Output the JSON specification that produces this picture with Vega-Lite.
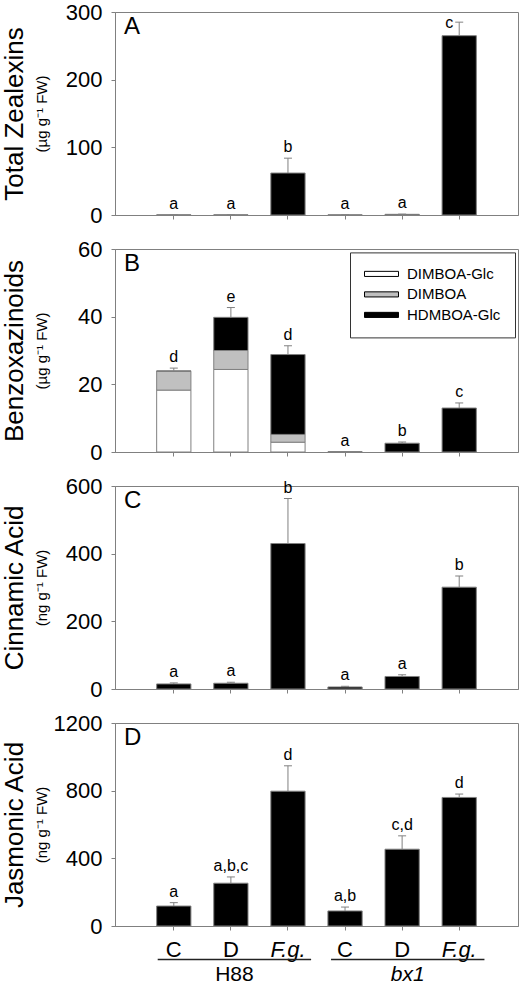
{
  "$schema": "https://vega.github.io/schema/vega-lite/v6.json",
  "padding": {"left": 0, "top": 0, "right": 5, "bottom": 0},
  "datasets": {
    "A": [
      {"cat": "H88|C", "value": 0.3, "upper": 0.3, "letter": "a"},
      {"cat": "H88|D", "value": 0.3, "upper": 0.3, "letter": "a"},
      {"cat": "H88|F.g.", "value": 62, "upper": 84, "letter": "b"},
      {"cat": "bx1|C", "value": 0.2, "upper": 0.2, "letter": "a"},
      {"cat": "bx1|D", "value": 1.0, "upper": 1.3, "letter": "a"},
      {"cat": "bx1|F.g.", "value": 265, "upper": 285, "letter": "c"}
    ],
    "B": [
      {"cat": "H88|C", "compound": "DIMBOA-Glc", "value": 18.3},
      {"cat": "H88|C", "compound": "DIMBOA", "value": 5.5},
      {"cat": "H88|C", "compound": "HDMBOA-Glc", "value": 0.2},
      {"cat": "H88|D", "compound": "DIMBOA-Glc", "value": 24.4},
      {"cat": "H88|D", "compound": "DIMBOA", "value": 5.6},
      {"cat": "H88|D", "compound": "HDMBOA-Glc", "value": 9.8},
      {"cat": "H88|F.g.", "compound": "DIMBOA-Glc", "value": 2.9},
      {"cat": "H88|F.g.", "compound": "DIMBOA", "value": 2.3},
      {"cat": "H88|F.g.", "compound": "HDMBOA-Glc", "value": 23.6},
      {"cat": "bx1|C", "compound": "DIMBOA-Glc", "value": 0},
      {"cat": "bx1|C", "compound": "DIMBOA", "value": 0},
      {"cat": "bx1|C", "compound": "HDMBOA-Glc", "value": 0},
      {"cat": "bx1|D", "compound": "DIMBOA-Glc", "value": 0},
      {"cat": "bx1|D", "compound": "DIMBOA", "value": 0},
      {"cat": "bx1|D", "compound": "HDMBOA-Glc", "value": 2.6},
      {"cat": "bx1|F.g.", "compound": "DIMBOA-Glc", "value": 0},
      {"cat": "bx1|F.g.", "compound": "DIMBOA", "value": 0},
      {"cat": "bx1|F.g.", "compound": "HDMBOA-Glc", "value": 13.0}
    ],
    "Bsum": [
      {"cat": "H88|C", "value": 24.0, "upper": 24.8, "letter": "d"},
      {"cat": "H88|D", "value": 39.8, "upper": 42.7, "letter": "e"},
      {"cat": "H88|F.g.", "value": 28.8, "upper": 31.4, "letter": "d"},
      {"cat": "bx1|C", "value": 0, "upper": 0, "letter": "a"},
      {"cat": "bx1|D", "value": 2.6, "upper": 2.95, "letter": "b"},
      {"cat": "bx1|F.g.", "value": 13.0, "upper": 14.5, "letter": "c"}
    ],
    "C": [
      {"cat": "H88|C", "value": 15, "upper": 18, "letter": "a"},
      {"cat": "H88|D", "value": 17, "upper": 20, "letter": "a"},
      {"cat": "H88|F.g.", "value": 430, "upper": 563, "letter": "b"},
      {"cat": "bx1|C", "value": 6, "upper": 8, "letter": "a"},
      {"cat": "bx1|D", "value": 37, "upper": 42, "letter": "a"},
      {"cat": "bx1|F.g.", "value": 301, "upper": 334, "letter": "b"}
    ],
    "D": [
      {"cat": "H88|C", "value": 118, "upper": 138, "letter": "a"},
      {"cat": "H88|D", "value": 253, "upper": 290, "letter": "a,b,c"},
      {"cat": "H88|F.g.", "value": 797, "upper": 947, "letter": "d"},
      {"cat": "bx1|C", "value": 89, "upper": 112, "letter": "a,b"},
      {"cat": "bx1|D", "value": 454, "upper": 533, "letter": "c,d"},
      {"cat": "bx1|F.g.", "value": 760, "upper": 780, "letter": "d"}
    ],
    "groups": [
      {"genotype": "H88"},
      {"genotype": "bx1"}
    ]
  },
  "spacing": 34,
  "bounds": "flush",
  "vconcat": [
    {
      "width": 403, "height": 203,
      "title": {"text": "A", "offset": -38, "dx": 9},
      "data": {"name": "A"},
      "encoding": {
        "x": {"field": "cat", "type": "nominal", "title": null,
              "scale": {"domain": ["H88|C", "H88|D", "H88|F.g.", "bx1|C", "bx1|D", "bx1|F.g."], "paddingInner": 0.4, "paddingOuter": 0.73},
              "axis": {"labels": false}}
      },
      "layer": [
        {
          "mark": {"type": "bar", "fill": "#000000", "stroke": "#808080", "strokeWidth": 1},
          "encoding": {
            "y": {"field": "value", "type": "quantitative", "scale": {"domain": [0, 300], "nice": false},
                  "axis": {"title": "Total Zealexins", "values": [0, 100, 200, 300], "format": "d", "titleX": -88}}
          }
        },
        {
          "layer": [
            {
              "mark": {"type": "rule", "color": "#808080", "strokeWidth": 1},
              "encoding": {
                "y": {"field": "value", "type": "quantitative", "scale": {"domain": [0, 300], "nice": false},
                      "axis": {"orient": "left", "title": "(µg g⁻¹ FW)", "labels": false, "ticks": false, "domain": false, "titleFontSize": 15, "titleX": -66}},
                "y2": {"field": "upper"}
              }
            },
            {
              "mark": {"type": "tick", "color": "#808080", "size": 8, "thickness": 1, "opacity": 1, "orient": "horizontal"},
              "encoding": {"y": {"field": "upper", "type": "quantitative"}}
            },
            {
              "mark": {"type": "text", "fontSize": 16, "baseline": "alphabetic", "color": "#000000",
                       "dx": {"expr": "datum.upper > 270 ? -10 : 0"},
                       "dy": {"expr": "datum.upper > 270 ? 6 : -6"}},
              "encoding": {"y": {"field": "upper", "type": "quantitative"}, "text": {"field": "letter"}}
            }
          ]
        }
      ],
      "resolve": {"scale": {"y": "independent"}}
    },
    {
      "width": 403, "height": 203,
      "title": {"text": "B", "offset": -38, "dx": 9},
      "encoding": {
        "x": {"field": "cat", "type": "nominal", "title": null,
              "scale": {"domain": ["H88|C", "H88|D", "H88|F.g.", "bx1|C", "bx1|D", "bx1|F.g."], "paddingInner": 0.4, "paddingOuter": 0.73},
              "axis": {"labels": false}}
      },
      "layer": [
        {
          "data": {"name": "B"},
          "transform": [{"calculate": "indexof(['DIMBOA-Glc','DIMBOA','HDMBOA-Glc'], datum.compound)", "as": "stackOrder"}],
          "mark": {"type": "bar", "stroke": "#808080", "strokeWidth": 1},
          "encoding": {
            "y": {"field": "value", "type": "quantitative", "stack": "zero", "scale": {"domain": [0, 60], "nice": false},
                  "axis": {"title": "Benzoxazinoids", "values": [0, 20, 40, 60], "format": "d", "titleX": -88}},
            "fill": {"field": "compound", "type": "nominal",
                     "scale": {"domain": ["DIMBOA-Glc", "DIMBOA", "HDMBOA-Glc"], "range": ["#ffffff", "#c0c0c0", "#000000"]},
                     "legend": {"orient": "none", "legendX": 235, "legendY": 240.4, "title": null,
                                "strokeColor": "#333333", "fillColor": "#ffffff", "padding": 14,
                                "labelFontSize": 15, "labelOffset": 8, "rowPadding": 4.5, "clipHeight": 15,
                                "symbolType": "M-1,-0.15H1V0.15H-1Z", "symbolSize": 1156,
                                "symbolStrokeColor": "#000000", "symbolStrokeWidth": 1, "symbolOpacity": 1}},
            "order": {"field": "stackOrder", "type": "quantitative"}
          }
        },
        {
          "data": {"name": "Bsum"},
          "layer": [
            {
              "mark": {"type": "rule", "color": "#808080", "strokeWidth": 1},
              "encoding": {
                "y": {"field": "value", "type": "quantitative", "scale": {"domain": [0, 60], "nice": false},
                      "axis": {"orient": "left", "title": "(µg g⁻¹ FW)", "labels": false, "ticks": false, "domain": false, "titleFontSize": 15, "titleX": -66}},
                "y2": {"field": "upper"}
              }
            },
            {
              "mark": {"type": "tick", "color": "#808080", "size": 8, "thickness": 1, "opacity": 1, "orient": "horizontal"},
              "encoding": {"y": {"field": "upper", "type": "quantitative"}}
            },
            {
              "mark": {"type": "text", "fontSize": 16, "baseline": "alphabetic", "dy": -6, "color": "#000000"},
              "encoding": {"y": {"field": "upper", "type": "quantitative"}, "text": {"field": "letter"}}
            }
          ]
        }
      ],
      "resolve": {"scale": {"y": "independent"}}
    },
    {
      "width": 403, "height": 203,
      "title": {"text": "C", "offset": -38, "dx": 9},
      "data": {"name": "C"},
      "encoding": {
        "x": {"field": "cat", "type": "nominal", "title": null,
              "scale": {"domain": ["H88|C", "H88|D", "H88|F.g.", "bx1|C", "bx1|D", "bx1|F.g."], "paddingInner": 0.4, "paddingOuter": 0.73},
              "axis": {"labels": false}}
      },
      "layer": [
        {
          "mark": {"type": "bar", "fill": "#000000", "stroke": "#808080", "strokeWidth": 1},
          "encoding": {
            "y": {"field": "value", "type": "quantitative", "scale": {"domain": [0, 600], "nice": false},
                  "axis": {"title": "Cinnamic Acid", "values": [0, 200, 400, 600], "format": "d", "titleX": -88}}
          }
        },
        {
          "layer": [
            {
              "mark": {"type": "rule", "color": "#808080", "strokeWidth": 1},
              "encoding": {
                "y": {"field": "value", "type": "quantitative", "scale": {"domain": [0, 600], "nice": false},
                      "axis": {"orient": "left", "title": "(ng g⁻¹ FW)", "labels": false, "ticks": false, "domain": false, "titleFontSize": 15, "titleX": -66}},
                "y2": {"field": "upper"}
              }
            },
            {
              "mark": {"type": "tick", "color": "#808080", "size": 8, "thickness": 1, "opacity": 1, "orient": "horizontal"},
              "encoding": {"y": {"field": "upper", "type": "quantitative"}}
            },
            {
              "mark": {"type": "text", "fontSize": 16, "baseline": "alphabetic", "dy": -6, "color": "#000000"},
              "encoding": {"y": {"field": "upper", "type": "quantitative"}, "text": {"field": "letter"}}
            }
          ]
        }
      ],
      "resolve": {"scale": {"y": "independent"}}
    },
    {
      "width": 403, "height": 203,
      "title": {"text": "D", "offset": -38, "dx": 9},
      "layer": [
        {
          "data": {"name": "D"},
          "mark": {"type": "bar", "fill": "#000000", "stroke": "#808080", "strokeWidth": 1},
          "encoding": {
            "x": {"field": "cat", "type": "nominal", "title": null,
                  "scale": {"domain": ["H88|C", "H88|D", "H88|F.g.", "bx1|C", "bx1|D", "bx1|F.g."], "paddingInner": 0.4, "paddingOuter": 0.73},
                  "axis": {"labelExpr": "split(datum.value, '|')[1]",
                           "labelFontStyle": {"condition": {"test": "indexof(datum.value, 'F.g.') >= 0", "value": "italic"}, "value": "normal"}}},
            "y": {"field": "value", "type": "quantitative", "scale": {"domain": [0, 1200], "nice": false},
                  "axis": {"title": "Jasmonic Acid", "values": [0, 400, 800, 1200], "format": "d", "titleX": -88}}
          }
        },
        {
          "data": {"name": "D"},
          "encoding": {
            "x": {"field": "cat", "type": "nominal", "title": null,
                  "scale": {"domain": ["H88|C", "H88|D", "H88|F.g.", "bx1|C", "bx1|D", "bx1|F.g."], "paddingInner": 0.4, "paddingOuter": 0.73},
                  "axis": null}
          },
          "layer": [
            {
              "mark": {"type": "rule", "color": "#808080", "strokeWidth": 1},
              "encoding": {
                "y": {"field": "value", "type": "quantitative", "scale": {"domain": [0, 1200], "nice": false},
                      "axis": {"orient": "left", "title": "(ng g⁻¹ FW)", "labels": false, "ticks": false, "domain": false, "titleFontSize": 15, "titleX": -66}},
                "y2": {"field": "upper"}
              }
            },
            {
              "mark": {"type": "tick", "color": "#808080", "size": 8, "thickness": 1, "opacity": 1, "orient": "horizontal"},
              "encoding": {"y": {"field": "upper", "type": "quantitative"}}
            },
            {
              "mark": {"type": "text", "fontSize": 16, "baseline": "alphabetic", "dy": -6, "color": "#000000"},
              "encoding": {"y": {"field": "upper", "type": "quantitative"}, "text": {"field": "letter"}}
            }
          ]
        },
        {
          "data": {"name": "groups"},
          "encoding": {
            "x": {"field": "genotype", "type": "nominal", "title": null,
                  "scale": {"domain": ["H88", "bx1"], "paddingInner": 0.115, "paddingOuter": 0.22, "align": 0.56},
                  "axis": null},
            "y": {"datum": 0, "type": "quantitative", "scale": {"domain": [0, 1200], "nice": false}, "axis": null}
          },
          "layer": [
            {
              "mark": {"type": "rule", "color": "#222222", "strokeWidth": 1.5, "yOffset": 33.5},
              "encoding": {
                "x": {"field": "genotype", "type": "nominal", "bandPosition": 0},
                "x2": {"field": "genotype", "bandPosition": 1}
              }
            },
            {
              "mark": {"type": "text", "fontSize": 21, "baseline": "alphabetic", "dy": 55, "color": "#000000",
                       "fontStyle": {"expr": "datum.genotype == 'bx1' ? 'italic' : 'normal'"}},
              "encoding": {"text": {"field": "genotype"}}
            }
          ]
        }
      ],
      "resolve": {"scale": {"x": "independent", "y": "independent"}}
    }
  ],
  "config": {
    "font": "Liberation Sans",
    "view": {"stroke": "#808080", "strokeWidth": 1},
    "axis": {"grid": false, "domainColor": "#808080", "tickColor": "#808080", "labelColor": "#000000", "titleColor": "#000000",
             "titleFontWeight": "normal", "labelFont": "Liberation Sans", "titleFont": "Liberation Sans", "tickSize": 4},
    "axisX": {"labelFontSize": 22, "labelPadding": 9, "labelAngle": 0},
    "axisY": {"labelFontSize": 22, "labelPadding": 9, "titleFontSize": 26},
    "title": {"font": "Liberation Sans", "fontWeight": "normal", "fontSize": 24, "anchor": "start", "frame": "group", "color": "#000000"},
    "legend": {"labelFont": "Liberation Sans", "labelColor": "#000000"}
  }
}
